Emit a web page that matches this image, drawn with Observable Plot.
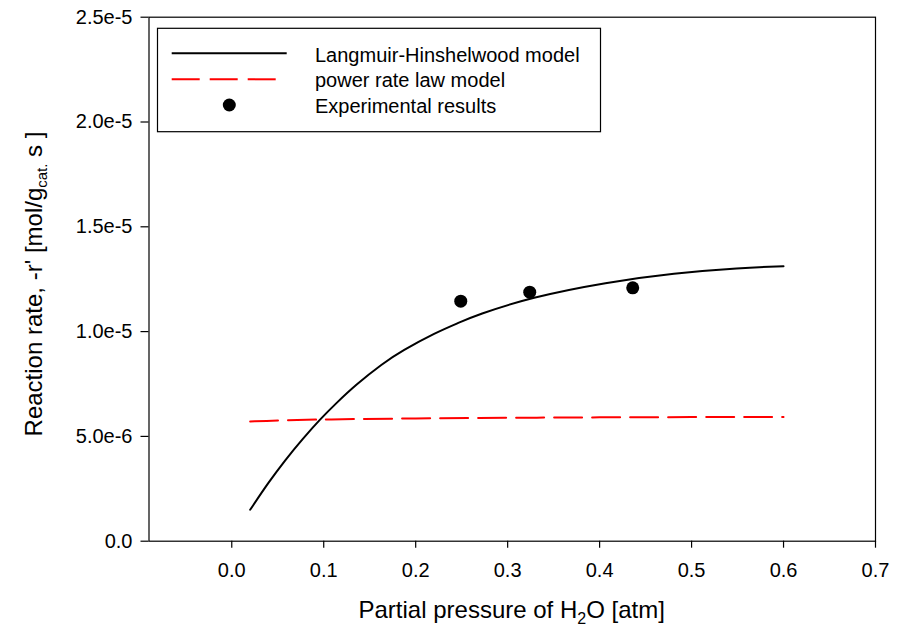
<!DOCTYPE html>
<html>
<head>
<meta charset="utf-8">
<script src="https://cdn.jsdelivr.net/npm/d3@7"></script>
<script src="https://cdn.jsdelivr.net/npm/@observablehq/plot@0.6"></script>
<style>
  html, body { margin: 0; padding: 0; background: white; }
  #chart { width: 898px; height: 631px; }
</style>
</head>
<body>
<div id="chart"></div>
<script>
// Langmuir-Hinshelwood model curve
const lhX = [0.020, 0.040, 0.058, 0.077, 0.0965, 0.113, 0.1345, 0.164, 0.185, 0.2215, 0.249, 0.265, 0.325, 0.408, 0.481, 0.553, 0.600];
const lhY = [1.50e-6, 2.81e-6, 3.87e-6, 4.88e-6, 5.84e-6, 6.56e-6, 7.45e-6, 8.48e-6, 9.08e-6, 9.95e-6, 1.046e-5, 1.077e-5, 1.164e-5, 1.236e-5, 1.279e-5, 1.304e-5, 1.312e-5];

// power rate law model
const plX = [0.02, 0.05, 0.10, 0.20, 0.30, 0.40, 0.50, 0.60];
const plY = [5.71e-6, 5.77e-6, 5.81e-6, 5.86e-6, 5.89e-6, 5.91e-6, 5.92e-6, 5.93e-6];

// experimental results
const expX = [0.249, 0.324, 0.436];
const expY = [1.145e-5, 1.188e-5, 1.209e-5];

const xTicks = [0, 0.1, 0.2, 0.3, 0.4, 0.5, 0.6, 0.7];
const yTicks = [0, 5e-6, 1e-5, 1.5e-5, 2e-5, 2.5e-5];

const legendLabels = ["Langmuir-Hinshelwood model", "power rate law model", "Experimental results"];

const lh = lhX.map((x, i) => ({x, y: lhY[i]}));
const pl = plX.map((x, i) => ({x, y: plY[i]}));
const ex = expX.map((x, i) => ({x, y: expY[i]}));

const font = "'Liberation Sans', Arial, Helvetica, sans-serif";
const yFmt = d => d === 0 ? "0.0" : d.toExponential(1);

const svg = Plot.plot({
  width: 898,
  height: 631,
  marginLeft: 148.5,
  marginRight: 23,
  marginTop: 16.7,
  marginBottom: 90.3,
  style: {fontFamily: font, fontSize: "20px", background: "white", color: "black", overflow: "visible"},
  x: {domain: [-0.09, 0.7]},
  y: {domain: [0, 2.5e-5]},
  marks: [
    Plot.axisX({ticks: xTicks, tickSize: 7, tickPadding: 14.5, tickFormat: d => d.toFixed(1), label: null, fontSize: 20, strokeWidth: 1.2}),
    Plot.axisY({ticks: yTicks, tickSize: 8, tickPadding: 8.5, tickFormat: yFmt, label: null, fontSize: 20, strokeWidth: 1.2}),
    Plot.frame({stroke: "black", strokeWidth: 1.2}),
    Plot.line(lh, {x: "x", y: "y", curve: "basis", stroke: "black", strokeWidth: 2}),
    Plot.line(pl, {x: "x", y: "y", curve: "basis", stroke: "red", strokeWidth: 2, strokeDasharray: "28,10"}),
    Plot.dot(ex, {x: "x", y: "y", r: 6.5, fill: "black", stroke: "none"})
  ]
});

document.getElementById("chart").appendChild(svg);

const s = d3.select(svg);

// X axis title
const xt = s.append("text")
  .attr("x", 511.7).attr("y", 618.3)
  .attr("text-anchor", "middle")
  .attr("font-family", font).attr("font-size", 24).attr("fill", "black");
xt.append("tspan").text("Partial pressure of H");
xt.append("tspan").attr("font-size", 16).attr("dy", 6).text("2");
xt.append("tspan").attr("dy", -6).text("O [atm]");

// Y axis title
const yt = s.append("text")
  .attr("transform", "translate(41.7,284) rotate(-90)")
  .attr("text-anchor", "middle")
  .attr("font-family", font).attr("font-size", 24).attr("fill", "black");
yt.append("tspan").text("Reaction rate, -r' [mol/g");
yt.append("tspan").attr("font-size", 15).attr("dy", 5).text("cat.");
yt.append("tspan").attr("dy", -5).text(" s ]");

// Legend
const lg = s.append("g");
lg.append("rect").attr("x", 157.5).attr("y", 28.3).attr("width", 443).attr("height", 103.4)
  .attr("fill", "white").attr("stroke", "black").attr("stroke-width", 1.2);
lg.append("line").attr("x1", 171.7).attr("x2", 286.7).attr("y1", 53.3).attr("y2", 53.3)
  .attr("stroke", "black").attr("stroke-width", 2);
lg.append("line").attr("x1", 171.7).attr("x2", 275.7).attr("y1", 79.3).attr("y2", 79.3)
  .attr("stroke", "red").attr("stroke-width", 2).attr("stroke-dasharray", "28,10");
lg.append("circle").attr("cx", 229.3).attr("cy", 105).attr("r", 6.5).attr("fill", "black");
const baselines = [61.7, 86.7, 112.7];
legendLabels.forEach((t, i) => {
  lg.append("text").attr("x", 315).attr("y", baselines[i])
    .attr("text-anchor", "start")
    .attr("font-family", font).attr("font-size", 20).attr("fill", "black").text(t);
});
</script>
</body>
</html>
